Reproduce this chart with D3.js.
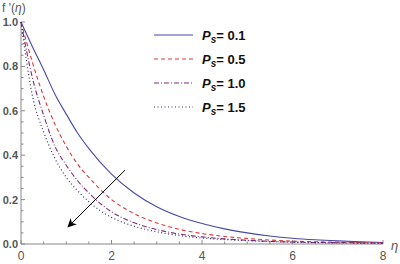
<!DOCTYPE html>
<html>
<head>
<meta charset="utf-8">
<script src="https://cdn.jsdelivr.net/npm/d3@7"></script>
<style>
  body { margin: 0; background: #fff; }
  svg { display: block; font-family: Arial, "Liberation Sans", sans-serif; }
</style>
</head>
<body>
<script>
'use strict';

// eta grid and f'(eta)
const eta = [0, 0.25, 0.5, 0.75, 1, 1.25, 1.5, 2, 2.5, 3, 3.5, 4, 4.5, 5, 5.5, 6, 6.5, 7, 7.5, 8];
const ps01 = [1, 0.89, 0.785, 0.675, 0.585, 0.50, 0.43, 0.315, 0.23, 0.168, 0.124, 0.092, 0.068, 0.05, 0.036, 0.026, 0.019, 0.014, 0.01, 0.007];
const ps05 = [1, 0.82, 0.665, 0.54, 0.44, 0.36, 0.30, 0.20, 0.137, 0.095, 0.066, 0.047, 0.034, 0.025, 0.018, 0.013, 0.01, 0.008, 0.006, 0.005];
const ps10 = [1, 0.75, 0.58, 0.44, 0.355, 0.285, 0.23, 0.145, 0.096, 0.065, 0.045, 0.032, 0.023, 0.017, 0.012, 0.009, 0.007, 0.006, 0.005, 0.004];
const ps15 = [1, 0.67, 0.505, 0.385, 0.30, 0.24, 0.19, 0.12, 0.08, 0.055, 0.038, 0.027, 0.02, 0.015, 0.011, 0.008, 0.006, 0.005, 0.004, 0.003];
const labels = ['0.1', '0.5', '1.0', '1.5'];

const xTicks = [0, 2, 4, 6, 8];
const yTicks = [0.0, 0.2, 0.4, 0.6, 0.8, 1.0];
// arrow from (eta, f) to (eta, f)
const arrowFrom = [2.3, 0.333];
const arrowTo = [1.04, 0.077];

const width = 400, height = 264;
const x = d3.scaleLinear().domain([0, 8]).range([21, 383]);
const y = d3.scaleLinear().domain([0, 1]).range([244, 22]);

const svg = d3.select('body').append('svg')
    .attr('width', width)
    .attr('height', height);

const axisColor = '#888';
const labelColor = '#555';

const series = [
  { name: labels[0], vals: ps01, color: '#4848a8', dash: null, w: 1.1 },
  { name: labels[1], vals: ps05, color: '#e03838', dash: '4,3', w: 1.1 },
  { name: labels[2], vals: ps10, color: '#7a2a80', dash: '5,2,1,2', w: 1.1 },
  { name: labels[3], vals: ps15, color: '#303060', dash: '1,2.5', w: 1.2 }
];

// axes
const gx = svg.append('g').attr('transform', `translate(0,${y(0)})`);
gx.append('line').attr('x1', x(0)).attr('x2', x(8)).attr('stroke', axisColor);
gx.selectAll('line.minor')
  .data(d3.range(0, 8.01, 0.5))
  .join('line')
    .attr('class', 'minor')
    .attr('x1', d => x(d)).attr('x2', d => x(d))
    .attr('y1', 0).attr('y2', d => d % 2 === 0 ? -4 : -2.5)
    .attr('stroke', axisColor);
gx.selectAll('text')
  .data(xTicks)
  .join('text')
    .attr('x', d => x(d))
    .attr('y', 16)
    .attr('text-anchor', 'middle')
    .attr('fill', labelColor)
    .attr('font-size', 12)
    .text(d => d);

const gy = svg.append('g').attr('transform', `translate(${x(0)},0)`);
gy.append('line').attr('y1', y(0)).attr('y2', y(1)).attr('stroke', axisColor);
gy.selectAll('line.minor')
  .data(d3.range(0, 21).map(i => i * 0.05))
  .join('line')
    .attr('class', 'minor')
    .attr('y1', d => y(d)).attr('y2', d => y(d))
    .attr('x1', 0).attr('x2', (d, i) => i % 4 === 0 ? 4 : 2.5)
    .attr('stroke', axisColor);
gy.selectAll('text')
  .data(yTicks)
  .join('text')
    .attr('x', -3)
    .attr('y', d => y(d) + 4)
    .attr('text-anchor', 'end')
    .attr('fill', labelColor)
    .attr('font-size', 11)
    .attr('font-weight', 'bold')
    .text(d => d.toFixed(1));

// axis labels
svg.append('text')
    .attr('x', 2).attr('y', 12)
    .attr('fill', labelColor)
    .attr('font-size', 12)
    .html("f '(<tspan font-style='italic'>η</tspan>)");
svg.append('text')
    .attr('x', 391).attr('y', 250)
    .attr('fill', labelColor)
    .attr('font-size', 13)
    .attr('font-style', 'italic')
    .text('η');

// curves
const line = d3.line()
    .x((d, i) => x(eta[i]))
    .y(d => y(d))
    .curve(d3.curveMonotoneX);

svg.selectAll('path.curve')
  .data(series)
  .join('path')
    .attr('class', 'curve')
    .attr('d', d => line(d.vals))
    .attr('fill', 'none')
    .attr('stroke', d => d.color)
    .attr('stroke-width', d => d.w)
    .attr('stroke-dasharray', d => d.dash);

// arrow
svg.append('defs').append('marker')
    .attr('id', 'head')
    .attr('viewBox', '0 0 10 10')
    .attr('refX', 9).attr('refY', 5)
    .attr('markerWidth', 11).attr('markerHeight', 9)
    .attr('markerUnits', 'userSpaceOnUse')
    .attr('orient', 'auto')
  .append('path')
    .attr('d', 'M0,0 L10,5 L0,10 L3,5 Z')
    .attr('fill', '#000');
svg.append('line')
    .attr('x1', x(arrowFrom[0])).attr('y1', y(arrowFrom[1]))
    .attr('x2', x(arrowTo[0])).attr('y2', y(arrowTo[1]))
    .attr('stroke', '#000')
    .attr('stroke-width', 1)
    .attr('marker-end', 'url(#head)');

// legend
const legend = svg.append('g');
const row = legend.selectAll('g')
  .data(series)
  .join('g')
    .attr('transform', (d, i) => `translate(154,${35 + i * 24})`);
row.append('line')
    .attr('x1', 0).attr('x2', 39)
    .attr('stroke', d => d.color)
    .attr('stroke-width', d => d.w)
    .attr('stroke-dasharray', d => d.dash);
const txt = row.append('text')
    .attr('x', 48).attr('y', 5)
    .attr('font-size', 13)
    .attr('font-weight', 'bold')
    .attr('fill', '#111');
txt.append('tspan').attr('font-style', 'italic').text('P');
txt.append('tspan').attr('font-style', 'italic').attr('font-size', 10).attr('dy', 3).text('s');
txt.append('tspan').attr('dy', -3).text(d => '= ' + d.name);
</script>
</body>
</html>
